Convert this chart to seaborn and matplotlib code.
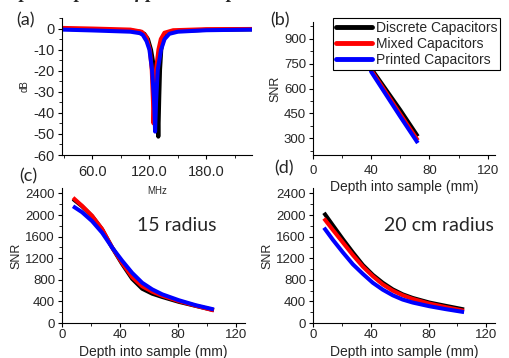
import numpy as np
import pandas as pd
import seaborn as sns
import matplotlib
matplotlib.use("Agg")
import matplotlib.pyplot as plt
from matplotlib.lines import Line2D
from matplotlib.ticker import MultipleLocator, FormatStrFormatter

# ---------------- data ----------------
series_names = ["Discrete Capacitors", "Mixed Capacitors", "Printed Capacitors"]
series_colors = ["#000000", "#ff0000", "#0000ff"]

# (a) reflection vs frequency
a_black_f = [28, 60, 100, 110, 114.7, 118.5, 121.7, 125.3, 128.3, 129.4, 130.4, 131.2, 132.5, 134.5, 137.5, 145, 180, 228]
a_black_db = [-0.2, -0.4, -0.9, -1.5, -2.5, -5, -10, -19.5, -32, -51.3, -32, -19.5, -10, -5, -2.5, -1.3, -0.6, -0.4]
a_red_f = [28, 60, 100, 112, 117, 120.5, 122.5, 123.8, 124.3, 125.5, 127, 129.5, 132, 135.8, 145, 180, 228]
a_red_db = [0.3, 0.0, -0.5, -1.5, -4, -10, -20, -35, -45, -30, -19.5, -10, -5, -2, -0.8, -0.3, -0.2]
a_blue_f = [28, 60, 100, 110, 113, 117, 120, 122.8, 125, 126, 127, 128.8, 132.3, 136, 141, 150, 180, 228]
a_blue_db = [-0.5, -0.9, -1.5, -2.2, -3, -6, -10, -19.5, -35, -48.9, -35, -19.5, -10, -5, -2.5, -1.5, -0.8, -0.5]

# (b) SNR vs depth
b_depth = [8, 20, 30, 40, 50, 60, 72]
b_black = [2300, 1600, 1100, 720, 595, 470, 312]
b_red = [2250, 1550, 1080, 710, 578, 445, 288]
b_blue = [2150, 1500, 1050, 700, 565, 430, 272]

# (c) and (d) depth grid
cd_depth = [7.6, 13.8, 20.7, 27.6, 34.5, 41.4, 48.3, 55.2, 62.1, 69, 80.5, 92, 104.6]

# (c) SNR vs depth, 15 radius
c_black = [2296, 2162, 1979, 1734, 1398, 1093, 818, 635, 543, 482, 391, 317, 238]
c_red = [2320, 2170, 1985, 1740, 1400, 1110, 850, 680, 580, 505, 405, 320, 232]
c_blue = [2162, 2052, 1887, 1673, 1398, 1154, 928, 745, 623, 531, 421, 330, 251]

# (d) SNR vs depth, 20 cm radius
d_black = [2040, 1807, 1551, 1307, 1075, 892, 745, 623, 531, 464, 379, 317, 251]
d_red = [1936, 1722, 1490, 1258, 1044, 867, 714, 599, 513, 446, 360, 293, 226]
d_blue = [1765, 1539, 1307, 1087, 910, 745, 617, 513, 434, 379, 311, 256, 202]

a_xticks = [60, 120, 180]
snr_xticks = [0, 40, 80, 120]


def long_df(xs, ys):
    rows = []
    for name, x, y in zip(series_names, xs, ys):
        for xi, yi in zip(x, y):
            rows.append({"x": xi, "y": yi, "series": name})
    return pd.DataFrame(rows)


sns.set_theme(style="ticks")
plt.rcParams["font.family"] = ["Liberation Sans", "DejaVu Sans"]
plt.rcParams["axes.linewidth"] = 0.8
plt.rcParams["axes.unicode_minus"] = False

W, H = 510, 358
fig = plt.figure(figsize=(W / 100, H / 100), dpi=100)


def px_axes(l, t, r, b):
    ax = fig.add_axes([l / W, 1 - b / H, (r - l) / W, (b - t) / H])
    ax.patch.set_alpha(0)
    return ax


ax_a = px_axes(62, 18, 252, 155)
ax_b = px_axes(313, 22, 495, 155)
ax_c = px_axes(62, 188, 245, 323)
ax_d = px_axes(313, 188, 495, 323)

palette = dict(zip(series_names, series_colors))
lw = 2.9


def draw(ax, df):
    sns.lineplot(data=df, x="x", y="y", hue="series", hue_order=series_names,
                 palette=palette, sort=False, estimator=None, linewidth=lw,
                 ax=ax, legend=False)
    for line in ax.get_lines():
        line.set_solid_capstyle("butt")
        line.set_solid_joinstyle("round")
    for s in ["top", "right"]:
        ax.spines[s].set_visible(False)
    for s in ["left", "bottom"]:
        ax.spines[s].set_color("black")
    ax.tick_params(which="major", direction="out", length=3, width=0.8, color="black", pad=2)
    ax.tick_params(which="minor", direction="out", length=2, width=0.6, color="black")


# (a)
draw(ax_a, long_df([a_black_f, a_red_f, a_blue_f], [a_black_db, a_red_db, a_blue_db]))
ax_a.set_xlim(28, 228)
ax_a.set_ylim(-60, 5)
ax_a.set_xticks(a_xticks)
ax_a.xaxis.set_major_formatter(FormatStrFormatter("%.1f"))
ax_a.xaxis.set_minor_locator(MultipleLocator(30))
ax_a.set_yticks(list(range(-60, 1, 10)))
ax_a.yaxis.set_minor_locator(MultipleLocator(5))
ax_a.tick_params(labelsize=10.5)
ax_a.tick_params(axis="x", pad=4)
ax_a.set_xlabel("MHz", fontsize=7, labelpad=5)
ax_a.set_ylabel("dB", fontsize=7, labelpad=3)

# (b)
draw(ax_b, long_df([b_depth] * 3, [b_black, b_red, b_blue]))
ax_b.set_xlim(0, 125)
ax_b.set_ylim(200, 1000)
ax_b.set_xticks(snr_xticks)
ax_b.xaxis.set_minor_locator(MultipleLocator(20))
ax_b.set_yticks([300, 450, 600, 750, 900])
ax_b.yaxis.set_minor_locator(MultipleLocator(75))
ax_b.tick_params(labelsize=9.5)
ax_b.tick_params(axis="x", pad=4)
ax_b.set_xlabel("Depth into sample (mm)", fontsize=10, labelpad=2)
ax_b.set_ylabel("SNR", fontsize=9, labelpad=2)

# (c) and (d)
for ax, vals in [(ax_c, [c_black, c_red, c_blue]),
                 (ax_d, [d_black, d_red, d_blue])]:
    draw(ax, long_df([cd_depth] * 3, vals))
    ax.set_xlim(0, 126)
    ax.set_ylim(0, 2500)
    ax.set_xticks(snr_xticks)
    ax.xaxis.set_minor_locator(MultipleLocator(20))
    ax.set_yticks(list(range(0, 2401, 400)))
    ax.yaxis.set_minor_locator(MultipleLocator(200))
    ax.tick_params(labelsize=9.5)
    ax.tick_params(axis="x", pad=1)
    ax.set_xlabel("Depth into sample (mm)", fontsize=10, labelpad=3)
    ax.set_ylabel("SNR", fontsize=9, labelpad=2)

fig.text(177 / W, 1 - 226 / H, "15 radius", ha="center", va="center",
         fontsize=14, family=["Lato", "DejaVu Sans"])
fig.text(439 / W, 1 - 226 / H, "20 cm radius", ha="center", va="center",
         fontsize=14, family=["Lato", "DejaVu Sans"])

# panel letters
for lab, x, y in [("(a)", 26, 20), ("(b)", 280, 20), ("(c)", 28, 176), ("(d)", 284, 168)]:
    fig.text(x / W, 1 - y / H, lab, ha="center", va="center", fontsize=13,
             family=["Lato", "DejaVu Sans"])

# clipped title at the very top (only its lower edge shows, as in the reference)
fig.text(0 / W, 1 + 2 / H, "Top view photo of printed capacitors", ha="left",
         va="baseline", fontsize=14, fontweight="bold", fontstyle="italic",
         family=["Liberation Serif", "DejaVu Serif"])

# legend
handles = [Line2D([0], [0], color=c, lw=3.5) for c in series_colors]
leg = fig.legend(handles, series_names, loc="upper left",
                 bbox_to_anchor=(333 / W, 1 - 18 / H), frameon=True, fancybox=False,
                 edgecolor="black", framealpha=1, fontsize=10, handlelength=2.6,
                 handletextpad=0.3, borderpad=0.2, labelspacing=0.15, borderaxespad=0)
leg.get_frame().set_linewidth(0.8)
leg.set_zorder(10)

fig.savefig("out.png", dpi=100)
